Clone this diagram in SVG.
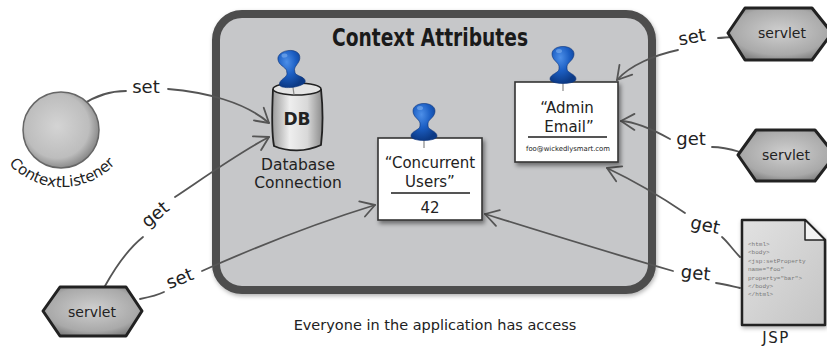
<svg xmlns="http://www.w3.org/2000/svg" width="827" height="349" viewBox="0 0 827 349">
  <defs>
    <style>
      .hand { font-family: "DejaVu Sans", "Noto Sans", sans-serif; fill: #222; }
      .lbl { font-family: "DejaVu Sans", "Noto Sans", sans-serif; font-size: 18px; fill: #222; text-anchor: middle; }
      .conn { fill: none; stroke: #555; stroke-width: 1.8; stroke-linecap: round; }
      .card { fill: #fff; stroke: #333; stroke-width: 1.6; }
      .rule { stroke: #555; stroke-width: 2; }
      .hex { fill: url(#hexFill); stroke: #222; stroke-width: 3; stroke-linejoin: round; }
      .svt { font-family: "DejaVu Sans", "Noto Sans", sans-serif; font-size: 14px; fill: #222; text-anchor: middle; }
      .code { font-family: "Liberation Mono", "DejaVu Sans Mono", monospace; font-size: 6px; fill: #777; }
    </style>
    <radialGradient id="ballFill" cx="0.45" cy="0.45" r="0.6">
      <stop offset="0" stop-color="#d4d4d4"/>
      <stop offset="0.7" stop-color="#bdbdbd"/>
      <stop offset="1" stop-color="#7a7a7a"/>
    </radialGradient>
    <radialGradient id="hexFill" cx="0.5" cy="0.45" r="0.65">
      <stop offset="0" stop-color="#cfcfcf"/>
      <stop offset="0.7" stop-color="#a9a9a9"/>
      <stop offset="1" stop-color="#707070"/>
    </radialGradient>
    <linearGradient id="cylFill" x1="0" y1="0" x2="1" y2="0">
      <stop offset="0" stop-color="#9a9a9a"/>
      <stop offset="0.35" stop-color="#eeeeee"/>
      <stop offset="0.7" stop-color="#d8d8d8"/>
      <stop offset="1" stop-color="#8c8c8c"/>
    </linearGradient>
    <linearGradient id="docFill" x1="0" y1="0" x2="1" y2="1">
      <stop offset="0" stop-color="#e2e2e2"/>
      <stop offset="1" stop-color="#c4c4c4"/>
    </linearGradient>
    <radialGradient id="pinFill" cx="0.4" cy="0.3" r="0.7">
      <stop offset="0" stop-color="#4d8fe8"/>
      <stop offset="0.5" stop-color="#1c5fc4"/>
      <stop offset="1" stop-color="#0c3a86"/>
    </radialGradient>
    <filter id="shadow" x="-20%" y="-20%" width="150%" height="150%">
      <feDropShadow dx="2" dy="3" stdDeviation="2.2" flood-color="#000" flood-opacity="0.45"/>
    </filter>
    <filter id="soft" x="-20%" y="-20%" width="140%" height="140%">
      <feDropShadow dx="1" dy="2" stdDeviation="2" flood-color="#000" flood-opacity="0.3"/>
    </filter>
    <marker id="vee" viewBox="-16 -10 20 20" markerWidth="20" markerHeight="20" refX="0" refY="0" orient="auto" markerUnits="userSpaceOnUse">
      <path d="M -14,-8 L 0,0 L -13,8" fill="none" stroke="#555" stroke-width="1.8" stroke-linecap="round" stroke-linejoin="round"/>
    </marker>
    <!-- push pin, origin at the centre of the head -->
    <g id="pin">
      <line x1="0" y1="28" x2="0" y2="36" stroke="#888" stroke-width="1.2"/>
      <path d="M -11,-1 C -11,-11 11,-11 11,-1 C 11,5 5,7 4,11 L 4,14 C 4,18 13,19 13,24 C 13,30 -13,30 -13,24 C -13,19 -4,18 -4,14 L -4,11 C -5,7 -11,5 -11,-1 Z" fill="url(#pinFill)" stroke="#0b3278" stroke-width="0.6"/>
      <ellipse cx="-4" cy="-4" rx="3" ry="2" fill="#7fb0f0" opacity="0.6"/>
    </g>
  </defs>

  <rect width="827" height="349" fill="#fff"/>

  <!-- shared context area -->
  <g id="context-area">
    <rect x="216" y="14" width="436" height="276" rx="26" fill="#c6c7c9" stroke="#4d4d4d" stroke-width="8" filter="url(#soft)"/>
    <text x="430" y="46" font-family="DejaVu Sans Condensed, DejaVu Sans, sans-serif" font-weight="900" font-size="25" textLength="196" lengthAdjust="spacingAndGlyphs" text-anchor="middle" fill="#1a1a1a">Context Attributes</text>
  </g>

  <!-- connectors -->
  <g id="connectors">
    <path class="conn" d="M 82,105 C 95,96 110,91 126,91"/>
    <path class="conn" d="M 168,89 C 205,92 245,102 269,123" marker-end="url(#vee)"/>
    <path class="conn" d="M 105,286 C 115,268 128,249 143,237"/>
    <path class="conn" d="M 175,197 C 205,177 240,152 269,137" marker-end="url(#vee)"/>
    <path class="conn" d="M 140,299 C 150,297 158,295 164,292"/>
    <path class="conn" d="M 202,271 C 260,245 320,222 375,205" marker-end="url(#vee)"/>
    <path class="conn" d="M 740,288 C 731,286 723,284 716,283"/>
    <path class="conn" d="M 673,271 C 600,250 530,228 485,214" marker-end="url(#vee)"/>
    <path class="conn" d="M 740,257 C 733,250 727,241 722,237"/>
    <path class="conn" d="M 685,213 C 660,196 630,179 607,168" marker-end="url(#vee)"/>
    <path class="conn" d="M 740,152 C 730,149 722,147 712,147"/>
    <path class="conn" d="M 670,139 C 652,129 636,122 621,121" marker-end="url(#vee)"/>
    <path class="conn" d="M 732,37 C 727,37 723,38 718,38"/>
    <path class="conn" d="M 678,50 C 655,55 630,65 617,80" marker-end="url(#vee)"/>
    <text class="lbl" x="146" y="93">set</text>
    <text class="lbl" transform="translate(159,219) rotate(-40)">get</text>
    <text class="lbl" transform="translate(182,284) rotate(-22)">set</text>
    <text class="lbl" transform="translate(693,43) rotate(-10)">set</text>
    <text class="lbl" x="691" y="145">get</text>
    <text class="lbl" transform="translate(704,231) rotate(12)">get</text>
    <text class="lbl" transform="translate(695,279) rotate(6)">get</text>
  </g>

  <!-- context listener; caption glyphs laid out along an arc under the ball -->
  <g id="context-listener">
    <circle cx="61" cy="130" r="38" fill="url(#ballFill)" stroke="#666" stroke-width="1.5"/>
    <text class="hand" font-size="15"
          x="8.8 16.5 23.9 32.3 37.8 46.6 55.4 61.3 69.8 73.9 81.6 87.2 95.5 103.6 110.8"
          y="163.5 170.8 176.1 180.6 182.8 185.3 186.7 187.0 186.6 186.0 184.3 182.5 178.7 173.7 168.0"
          rotate="47.6 39.2 31.9 24.4 19.7 12.3 5.3 0.6 -6.2 -9.5 -15.8 -20.4 -27.8 -35.3 -42.7">ContextListener</text>
  </g>

  <!-- database connection attribute -->
  <g id="db">
    <path d="M 273,89 C 272,110 271,130 274,146 C 288,152 306,152 321,145 C 323,128 323,108 321,89" fill="url(#cylFill)" stroke="#222" stroke-width="1.8"/>
    <ellipse cx="297" cy="89" rx="24" ry="6" fill="#e4e4e4" stroke="#222" stroke-width="1.6"/>
    <text class="hand" x="297" y="125" font-size="17" font-weight="bold" text-anchor="middle">DB</text>
    <use href="#pin" transform="translate(289,59) rotate(-8)"/>
    <text class="hand" x="298" y="170" font-size="15.5" text-anchor="middle">Database</text>
    <text class="hand" x="298" y="188" font-size="15.5" text-anchor="middle">Connection</text>
  </g>

  <!-- concurrent users attribute -->
  <g id="concurrent-users">
    <rect class="card" x="378" y="138" width="104" height="82" filter="url(#shadow)"/>
    <text class="hand" x="430" y="168" font-size="15" text-anchor="middle">“Concurrent</text>
    <text class="hand" x="430" y="187" font-size="15" text-anchor="middle">Users”</text>
    <line class="rule" x1="391" y1="193" x2="470" y2="193"/>
    <text class="hand" x="430" y="213" font-size="15" text-anchor="middle">42</text>
    <use href="#pin" transform="translate(424,112)"/>
  </g>

  <!-- admin email attribute -->
  <g id="admin-email">
    <rect class="card" x="515" y="82" width="103" height="80" filter="url(#shadow)"/>
    <text class="hand" x="567" y="113" font-size="15" text-anchor="middle">“Admin</text>
    <text class="hand" x="569" y="132" font-size="15" text-anchor="middle">Email”</text>
    <line class="rule" x1="528" y1="137" x2="607" y2="137"/>
    <text class="hand" x="568" y="151" font-size="7" text-anchor="middle" textLength="84" lengthAdjust="spacingAndGlyphs">foo@wickedlysmart.com</text>
    <use href="#pin" transform="translate(563,55)"/>
  </g>

  <!-- servlets -->
  <g id="servlet-bottom">
    <polygon class="hex" points="43,311 60,287 126,287 142,311 126,336 60,336"/>
    <text class="svt" x="92" y="317">servlet</text>
  </g>
  <g id="servlet-top">
    <polygon class="hex" points="728,33 745,8 812,8 832,33 812,60 745,60"/>
    <text class="svt" x="782" y="38">servlet</text>
  </g>
  <g id="servlet-middle">
    <polygon class="hex" points="738,155 756,130 815,130 835,155 815,181 756,181"/>
    <text class="svt" x="786" y="160">servlet</text>
  </g>

  <!-- jsp page -->
  <g id="jsp">
    <path d="M 742,220 L 805,220 L 825,240 L 825,325 L 742,325 Z" fill="url(#docFill)" stroke="#222" stroke-width="2.5" stroke-linejoin="round" filter="url(#soft)"/>
    <path d="M 805,220 L 805,240 L 825,240 Z" fill="#f2f2f2" stroke="#222" stroke-width="1.5" stroke-linejoin="round"/>
    <text class="code" x="748" y="246">&lt;html&gt;</text>
    <text class="code" x="748" y="254">&lt;body&gt;</text>
    <text class="code" x="748" y="263">&lt;jsp:setProperty</text>
    <text class="code" x="748" y="271">name="foo"</text>
    <text class="code" x="748" y="280">property="bar"&gt;</text>
    <text class="code" x="748" y="288">&lt;/body&gt;</text>
    <text class="code" x="748" y="296">&lt;/html&gt;</text>
    <text class="hand" x="776" y="343" font-size="15" text-anchor="middle" letter-spacing="1.5">JSP</text>
  </g>

  <text class="hand" x="435" y="330" font-size="14.5" text-anchor="middle">Everyone in the application has access</text>
</svg>
